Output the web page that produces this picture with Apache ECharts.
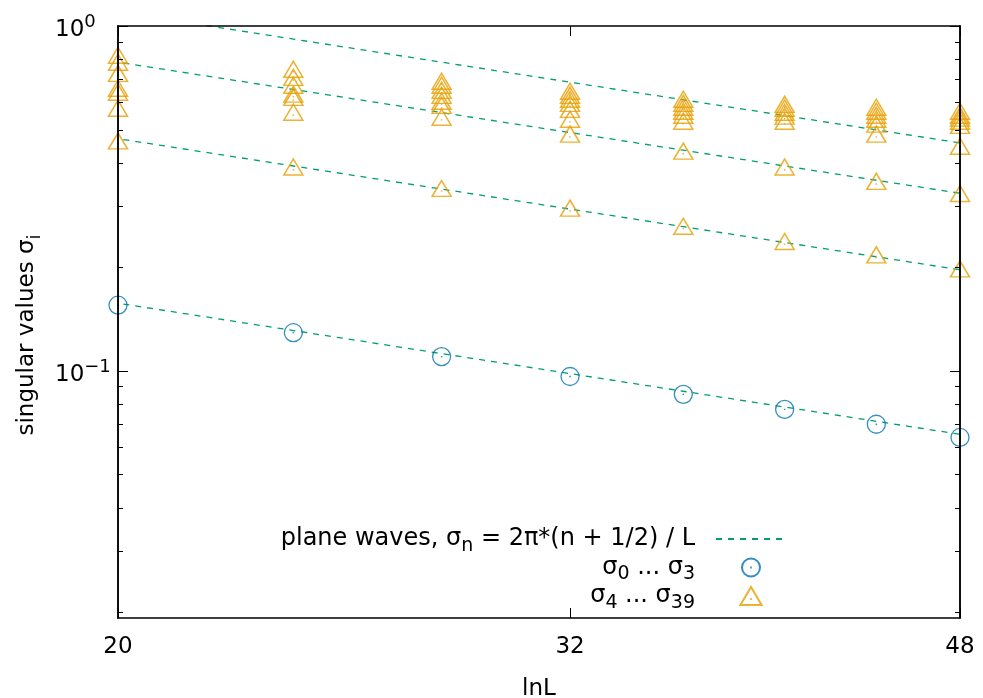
<!DOCTYPE html>
<html><head><meta charset="utf-8">
<script src="https://cdn.jsdelivr.net/npm/echarts@6/dist/echarts.min.js"></script>
<style>html,body{margin:0;padding:0;background:#fff}#c{width:983px;height:698px}</style>
</head><body><div id="c"></div>
<script>
// system sizes L
const sizes = [20, 24, 28, 32, 36, 40, 44, 48];
const xTickLabels = [20, 32, 48];
const yMin = 0.0192, yMax = 1;
const yMajor = [0.1, 1];
const yMinor = [0.02,0.03,0.04,0.05,0.06,0.07,0.08,0.09,0.2,0.3,0.4,0.5,0.6,0.7,0.8,0.9];
const planeModes = [0, 1, 2, 3];
// sigma_0 ... sigma_3 (degenerate)
const lowVals = [0.155, 0.129, 0.110, 0.0963, 0.0855, 0.0773, 0.0700, 0.0641];
// sigma_4 ... sigma_39 (distinct visible values per L)
const tri20 = [0.808, 0.771, 0.716, 0.648, 0.631, 0.567, 0.456];
const tri24 = [0.736, 0.697, 0.661, 0.623, 0.610, 0.552, 0.383];
const tri28 = [0.679, 0.661, 0.639, 0.618, 0.594, 0.578, 0.534, 0.332];
const tri32 = [0.635, 0.618, 0.602, 0.586, 0.563, 0.527, 0.477, 0.291];
const tri36 = [0.602, 0.586, 0.571, 0.556, 0.541, 0.520, 0.426, 0.258];
const tri40 = [0.582, 0.567, 0.552, 0.538, 0.520, 0.383, 0.233];
const tri44 = [0.571, 0.556, 0.541, 0.527, 0.510, 0.477, 0.348, 0.213];
const tri48 = [0.556, 0.541, 0.531, 0.520, 0.506, 0.440, 0.321, 0.194];
const highVals = [tri20, tri24, tri28, tri32, tri36, tri40, tri44, tri48];

const lx = v => Math.log(v);
const ly = v => Math.log10(v);

const FONT = 'DejaVu Sans';
const FS = 23;
const LFS = 24;
const GREEN = '#009e73', BLUE = '#0072b2', ORANGE = '#e69f00';

const circlePath = 'path://M9,0A9,9,0,1,1,-9,0A9,9,0,1,1,9,0Z M-0.8,0L0.8,0';
const triPath = 'path://M0,0L10,17L-10,17Z M-0.8,11.33L0.8,11.33';

const lowData = sizes.map((L, i) => [lx(L), ly(lowVals[i])]);
const highData = [];
sizes.forEach((L, i) => highVals[i].forEach(v => highData.push([lx(L), ly(v)])));

// plane-wave model: sigma_n = 2*pi*(n+1/2)/L
const lineL = [18, 20, 24, 28, 32, 36, 40, 44, 48];
const planeSeries = planeModes.map(n => ({
  name: 'pw', type: 'line', symbol: 'none', silent: true, z: 1,
  data: lineL.map(L => [lx(L), ly(2 * Math.PI * (n + 0.5) / L)]),
  lineStyle: { color: GREEN, width: 1.3, type: [6, 6] },
  itemStyle: { color: GREEN, opacity: 0 }
}));

const xMin = lx(sizes[0]), xMax = lx(sizes[sizes.length - 1]);
const yLo = ly(yMin), yHi = ly(yMax);
const xTickVals = xTickLabels.map(lx);

const subStyle = (fs, va) => ({ fontFamily: FONT, fontSize: fs, height: 8, lineHeight: 8, verticalAlign: va, color: '#000' });

function xAx(pos, labels) {
  return {
    type: 'value', position: pos, min: xMin, max: xMax, z: 5,
    axisLine: { show: true, onZero: false, lineStyle: { color: '#000', width: 1.5 } },
    axisTick: { show: true, inside: true, length: 10, customValues: xTickVals, lineStyle: { color: '#000', width: 1 } },
    axisLabel: { show: labels, customValues: xTickVals, margin: 18, color: '#000', fontFamily: FONT, fontSize: FS,
      formatter: v => String(Math.round(Math.exp(v))) },
    splitLine: { show: false },
    name: labels ? 'lnL' : '', nameLocation: 'middle', nameGap: 60,
    nameTextStyle: { color: '#000', fontFamily: FONT, fontSize: FS }
  };
}
function yAx(pos, vals, len, labels) {
  return {
    type: 'value', position: pos, min: yLo, max: yHi, z: 5,
    axisLine: { show: true, onZero: false, lineStyle: { color: '#000', width: 1.5 } },
    axisTick: { show: true, inside: true, length: len, customValues: vals.map(ly), lineStyle: { color: '#000', width: 1 } },
    axisLabel: { show: labels, customValues: yMajor.map(ly), margin: 63, align: 'left', color: '#000',
      fontFamily: FONT, fontSize: FS, padding: [8, 0, 0, 0],
      formatter: v => Math.abs(v) < 1e-9 ? '{b|10}{s|0}' : '{b|10}{s|\u22121}',
      rich: {
        b: { fontFamily: FONT, fontSize: FS, lineHeight: 24, color: '#000' },
        s: subStyle(18, 'top')
      } },
    splitLine: { show: false },
    name: labels ? '{t|singular values σ}{s|i}' : '', nameLocation: 'middle', nameGap: 70, nameRotate: 90,
    nameTextStyle: { color: '#000', fontFamily: FONT, fontSize: FS, padding: [0, 26, 0, 0],
      rich: {
        t: { fontFamily: FONT, fontSize: FS, lineHeight: 24, color: '#000' },
        s: subStyle(18, 'bottom')
      } }
  };
}

const chart = echarts.init(document.getElementById('c'), null, { renderer: 'canvas' });
chart.setOption({
  animation: false,
  backgroundColor: '#fff',
  grid: { left: 118, right: 23, top: 26, bottom: 80, containLabel: false, outerBoundsMode: 'none' },
  xAxis: [xAx('bottom', true), xAx('top', false)],
  yAxis: [yAx('left', yMajor, 10, true), yAx('left', yMinor, 5, false), yAx('right', yMajor, 10, false), yAx('right', yMinor, 5, false)],
  legend: {
    orient: 'vertical', align: 'right', right: 191, top: 522,
    itemWidth: 70, itemHeight: 18, itemGap: 0, selectedMode: false,
    data: [{ name: 'pw', itemStyle: { opacity: 0 } }, 'low', 'high'],
    formatter: name => ({
      pw: '{t|plane waves, σ}{s|n}{t| = 2π*(n + 1/2) / L}{g|}',
      low: '{t|σ}{s|0}{t| ... σ}{s|3}{g|}',
      high: '{t|σ}{s|4}{t| ... σ}{s|39}{g|}'
    })[name],
    textStyle: { color: '#000', fontFamily: FONT, fontSize: LFS, lineHeight: 22,
      rich: {
        t: { fontFamily: FONT, fontSize: LFS, lineHeight: 22, color: '#000' },
        s: subStyle(19, 'bottom'),
        g: { width: 16, height: 8, lineHeight: 8 }
      } }
  },
  series: [
    ...planeSeries,
    { name: 'low', type: 'scatter', data: lowData, symbol: circlePath, symbolSize: 18, z: 3,
      itemStyle: { color: 'rgba(0,0,0,0)', borderColor: BLUE, borderWidth: 1.3 } },
    { name: 'high', type: 'scatter', data: highData, symbol: triPath, symbolSize: [19, 16], symbolOffset: [0, -2.7], z: 3,
      itemStyle: { color: 'rgba(0,0,0,0)', borderColor: ORANGE, borderWidth: 1.5 } }
  ]
});
</script></body></html>
